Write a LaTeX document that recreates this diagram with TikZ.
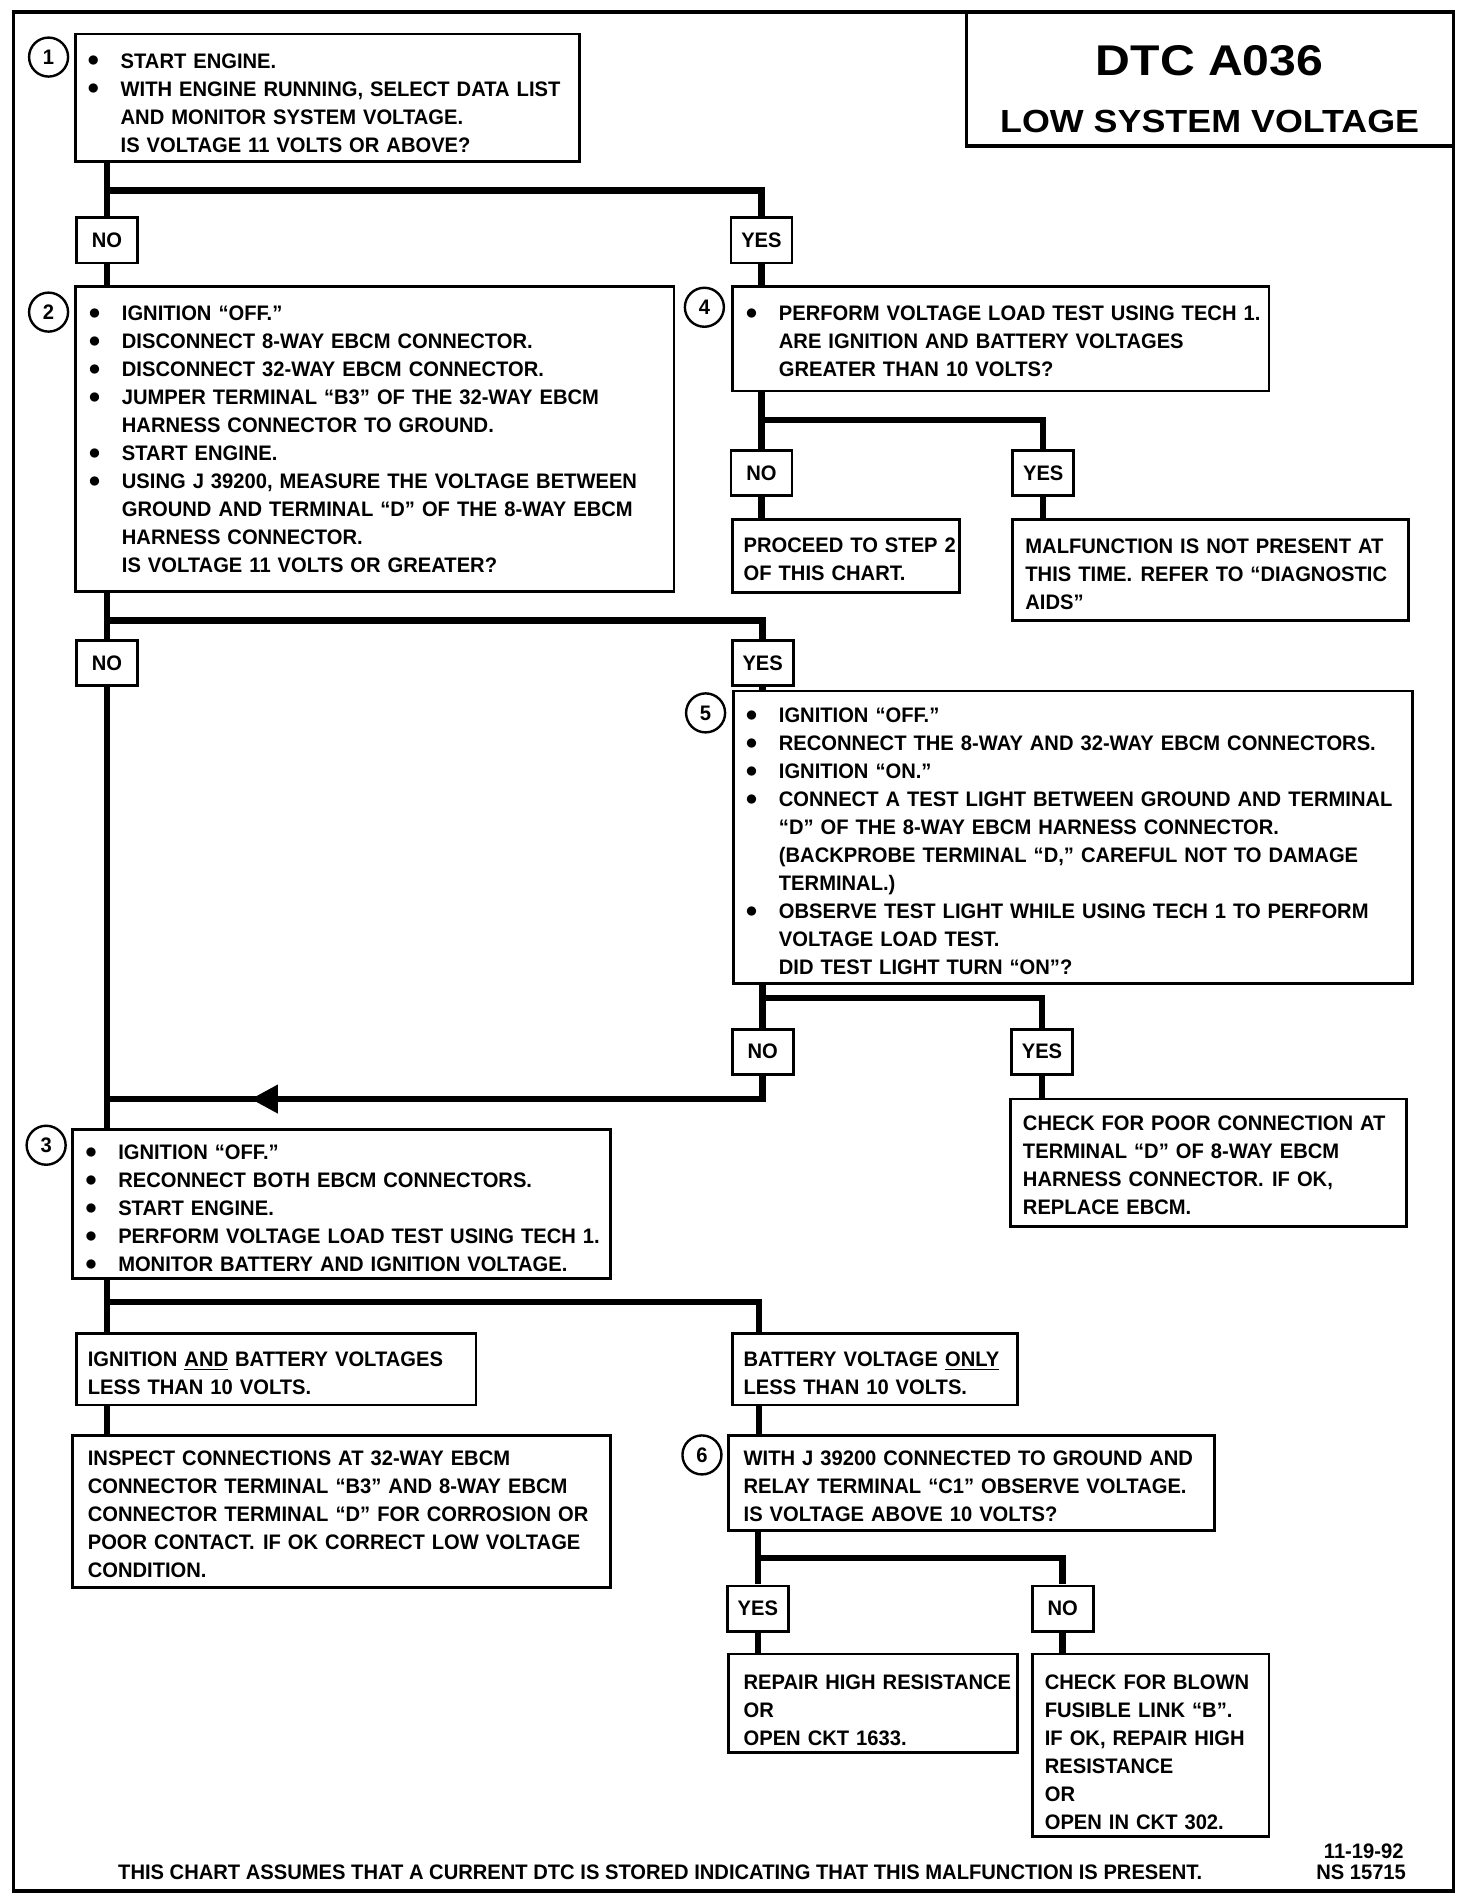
\documentclass[tikz,border=0pt]{standalone}
\usepackage{fontspec}
\setmainfont{Liberation Sans}[FakeStretch=0.96]
\newfontfamily\widef{Liberation Sans}[FakeStretch=1.12]
\usetikzlibrary{fit,calc}
\newcommand\bul{\makebox[14.6pt][l]{\hspace{-2pt}\raisebox{0.6pt}{\fontsize{12}{12}\selectfont$\bullet$}}}
\newcommand\ind{\hspace*{14.6pt}}
\newcommand\gap{\hspace{0.4em}}
\tikzset{
  boxr/.style={draw, line width=1.4pt, inner sep=0pt, rectangle},
  conn/.style={line width=3.2pt},
  txt/.style={anchor=base west, inner sep=0pt, text width=400pt, align=left,
              font=\bfseries\fontsize{10.5}{14}\selectfont},
  lab/.style={draw, line width=1.4pt, minimum width=30.5pt, minimum height=22.6pt,
              inner sep=0pt, font=\bfseries\fontsize{10.5}{14}\selectfont},
  numc/.style={draw, circle, line width=1.2pt, minimum size=19.5pt, inner sep=0pt,
               font=\bfseries\fontsize{10.5}{12}\selectfont},
  frm/.style={draw, line width=1.8pt, inner sep=0pt, rectangle},
}
\begin{document}
\begin{tikzpicture}[x=0.6102pt, y=-0.6102pt]
\useasboundingbox (0,0) rectangle (1206,1558.3);
\begin{scope}[scale=0.995]
% frame and title
\node[frm, fit={(11,10) (1197,1557)}] (frame) {};
\node[frm, fit={(796,10) (1197,120)}] (title) {};
\node[font=\widef\bfseries\fontsize{21.5}{24}\selectfont, inner sep=0pt] (ttl1) at (996,50) {DTC A036};
\node[font=\widef\bfseries\fontsize{16}{18}\selectfont, inner sep=0pt] (ttl2) at (996,100) {LOW SYSTEM VOLTAGE};

% boxes
\node[boxr, fit={(62,28) (477,133)}] (b1) {};
\node[boxr, fit={(62,236) (555,487)}] (b2) {};
\node[boxr, fit={(603,236) (1045,322)}] (b4) {};
\node[boxr, fit={(603,428) (790,488)}] (bproc) {};
\node[boxr, fit={(834,428) (1160,511)}] (bmalf) {};
\node[boxr, fit={(604,569) (1163,810)}] (b5) {};
\node[boxr, fit={(832,905) (1158,1010)}] (bpoor) {};
\node[boxr, fit={(60,930) (503,1053)}] (b3) {};
\node[boxr, fit={(63,1098) (392,1157)}] (bign) {};
\node[boxr, fit={(603,1098) (838,1157)}] (bbatt) {};
\node[boxr, fit={(60,1182) (503,1307)}] (binsp) {};
\node[boxr, fit={(600,1182) (1000,1260)}] (b6) {};
\node[boxr, fit={(600,1362) (838,1443)}] (brep) {};
\node[boxr, fit={(850,1362) (1045,1512)}] (bblown) {};

% step circles
\node[numc] (c1) at (40,47) {1};
\node[numc] (c2) at (40,257) {2};
\node[numc] (c4) at (580,253) {4};
\node[numc] (c5) at (581,587) {5};
\node[numc] (c3) at (38,943) {3};
\node[numc] (c6) at (578,1198) {6};

% yes / no labels
\node[lab] (no1) at (88,198) {NO};
\node[lab] (yes1) at (627,198) {YES};
\node[lab] (no2) at (627,389.5) {NO};
\node[lab] (yes2) at (859,389.5) {YES};
\node[lab] (no3) at (88,546) {NO};
\node[lab] (yes3) at (628,546) {YES};
\node[lab] (no4) at (628,866) {NO};
\node[lab] (yes4) at (858,866) {YES};
\node[lab] (yes5) at (624,1324.5) {YES};
\node[lab] (no5) at (875,1324.5) {NO};

% texts
\node[txt] (t1) at (75,56) {\bul START ENGINE.\\
\bul WITH ENGINE RUNNING, SELECT DATA LIST\\
\ind AND MONITOR SYSTEM VOLTAGE.\\
\ind IS VOLTAGE 11 VOLTS OR ABOVE?};

\node[txt] (t2) at (76,264) {\bul IGNITION “OFF.”\\
\bul DISCONNECT 8-WAY EBCM CONNECTOR.\\
\bul DISCONNECT 32-WAY EBCM CONNECTOR.\\
\bul JUMPER TERMINAL “B3” OF THE 32-WAY EBCM\\
\ind HARNESS CONNECTOR TO GROUND.\\
\bul START ENGINE.\\
\bul USING J 39200, MEASURE THE VOLTAGE BETWEEN\\
\ind GROUND AND TERMINAL “D” OF THE 8-WAY EBCM\\
\ind HARNESS CONNECTOR.\\
\ind IS VOLTAGE 11 VOLTS OR GREATER?};

\node[txt] (t4) at (617,264) {\bul PERFORM VOLTAGE LOAD TEST USING TECH 1.\\
\ind ARE IGNITION AND BATTERY VOLTAGES\\
\ind GREATER THAN 10 VOLTS?};

\node[txt] (tproc) at (612,455) {PROCEED TO STEP 2\\OF THIS CHART.};
\node[txt] (tmalf) at (844,456) {MALFUNCTION IS NOT PRESENT AT\\THIS TIME.\gap REFER TO “DIAGNOSTIC\\AIDS”};

\node[txt] (t5) at (617,595) {\bul IGNITION “OFF.”\\
\bul RECONNECT THE 8-WAY AND 32-WAY EBCM CONNECTORS.\\
\bul IGNITION “ON.”\\
\bul CONNECT A TEST LIGHT BETWEEN GROUND AND TERMINAL\\
\ind “D” OF THE 8-WAY EBCM HARNESS CONNECTOR.\\
\ind (BACKPROBE TERMINAL “D,” CAREFUL NOT TO DAMAGE\\
\ind TERMINAL.)\\
\bul OBSERVE TEST LIGHT WHILE USING TECH 1 TO PERFORM\\
\ind VOLTAGE LOAD TEST.\\
\ind DID TEST LIGHT TURN “ON”?};

\node[txt] (tpoor) at (842,931) {CHECK FOR POOR CONNECTION AT\\TERMINAL “D” OF 8-WAY EBCM\\HARNESS CONNECTOR.\gap IF OK,\\REPLACE EBCM.};

\node[txt] (t3) at (73,955) {\bul IGNITION “OFF.”\\
\bul RECONNECT BOTH EBCM CONNECTORS.\\
\bul START ENGINE.\\
\bul PERFORM VOLTAGE LOAD TEST USING TECH 1.\\
\bul MONITOR BATTERY AND IGNITION VOLTAGE.};

\node[txt] (tign) at (72,1125) {IGNITION \underline{AND} BATTERY VOLTAGES\\LESS THAN 10 VOLTS.};
\node[txt] (tbatt) at (612,1125) {BATTERY VOLTAGE \underline{ONLY}\\LESS THAN 10 VOLTS.};
\node[txt] (tinsp) at (72,1207) {INSPECT CONNECTIONS AT 32-WAY EBCM\\CONNECTOR TERMINAL “B3” AND 8-WAY EBCM\\CONNECTOR TERMINAL “D” FOR CORROSION OR\\POOR CONTACT.\gap IF OK CORRECT LOW VOLTAGE\\CONDITION.};
\node[txt] (t6) at (612,1207) {WITH J 39200 CONNECTED TO GROUND AND\\RELAY TERMINAL “C1” OBSERVE VOLTAGE.\\IS VOLTAGE ABOVE 10 VOLTS?};
\node[txt] (trep) at (612,1391) {REPAIR HIGH RESISTANCE\\OR\\OPEN CKT 1633.};
\node[txt] (tblown) at (860,1391) {CHECK FOR BLOWN\\FUSIBLE LINK “B”.\\IF OK, REPAIR HIGH\\RESISTANCE\\OR\\OPEN IN CKT 302.};

% footer
\node[anchor=base west, inner sep=0pt, font=\bfseries\fontsize{10.5}{14}\selectfont] (foot) at (97,1548) {THIS CHART ASSUMES THAT A CURRENT DTC IS STORED INDICATING THAT THIS MALFUNCTION IS PRESENT.};
\node[anchor=base east, inner sep=0pt, font=\bfseries\fontsize{10.5}{14}\selectfont] (date) at (1156,1530) {11-19-92};
\node[anchor=base east, inner sep=0pt, font=\bfseries\fontsize{10.5}{14}\selectfont] (ns) at (1158,1548) {NS 15715};

% connectors
\coordinate (s1) at (88,157);
\draw[conn] (b1.south -| s1) -- (no1.north);
\draw[conn] (yes1.north) |- (s1);
\draw[conn] (no1.south) -- (no1.south |- b2.north);
\draw[conn] (yes1.south) -- (yes1.south |- b4.north);

\coordinate (s2) at (627,346);
\draw[conn] (b4.south -| s2) -- (no2.north);
\draw[conn] (yes2.north) |- (s2);
\draw[conn] (no2.south) -- (no2.south |- bproc.north);
\draw[conn] (yes2.south) -- (yes2.south |- bmalf.north);

\coordinate (s3) at (88,511);
\draw[conn] (b2.south -| s3) -- (no3.north);
\draw[conn] (yes3.north) |- (s3);
\draw[conn] (yes3.south) -- (yes3.south |- b5.north);
\draw[conn] (no3.south) -- (no3.south |- b3.north);

\coordinate (s4) at (628,822);
\draw[conn] (b5.south -| s4) -- (no4.north);
\draw[conn] (yes4.north) |- (s4);
\draw[conn] (yes4.south) -- (yes4.south |- bpoor.north);
\coordinate (j4) at (628,905);
\coordinate (jm) at (88,905);
\draw[conn] (no4.south) |- (jm);
\fill ($(j4)!0.78!(jm)$) -- ++(22,-12) -- ++(0,24) -- cycle;

\coordinate (s5) at (88,1072);
\coordinate (s5r) at (625,1072);
\draw[conn] (b3.south -| s5) -- (bign.north -| s5);
\draw[conn] (s5r |- bbatt.north) -- (s5r) -- (s5);
\draw[conn] (bign.south -| s5) -- (binsp.north -| s5);
\draw[conn] (bbatt.south -| s5r) -- (b6.north -| s5r);

\coordinate (s6) at (624,1283);
\draw[conn] (b6.south -| s6) -- (yes5.north);
\draw[conn] (no5.north) |- (s6);
\draw[conn] (yes5.south) -- (yes5.south |- brep.north);
\draw[conn] (no5.south) -- (no5.south |- bblown.north);
\end{scope}
\end{tikzpicture}
\end{document}
